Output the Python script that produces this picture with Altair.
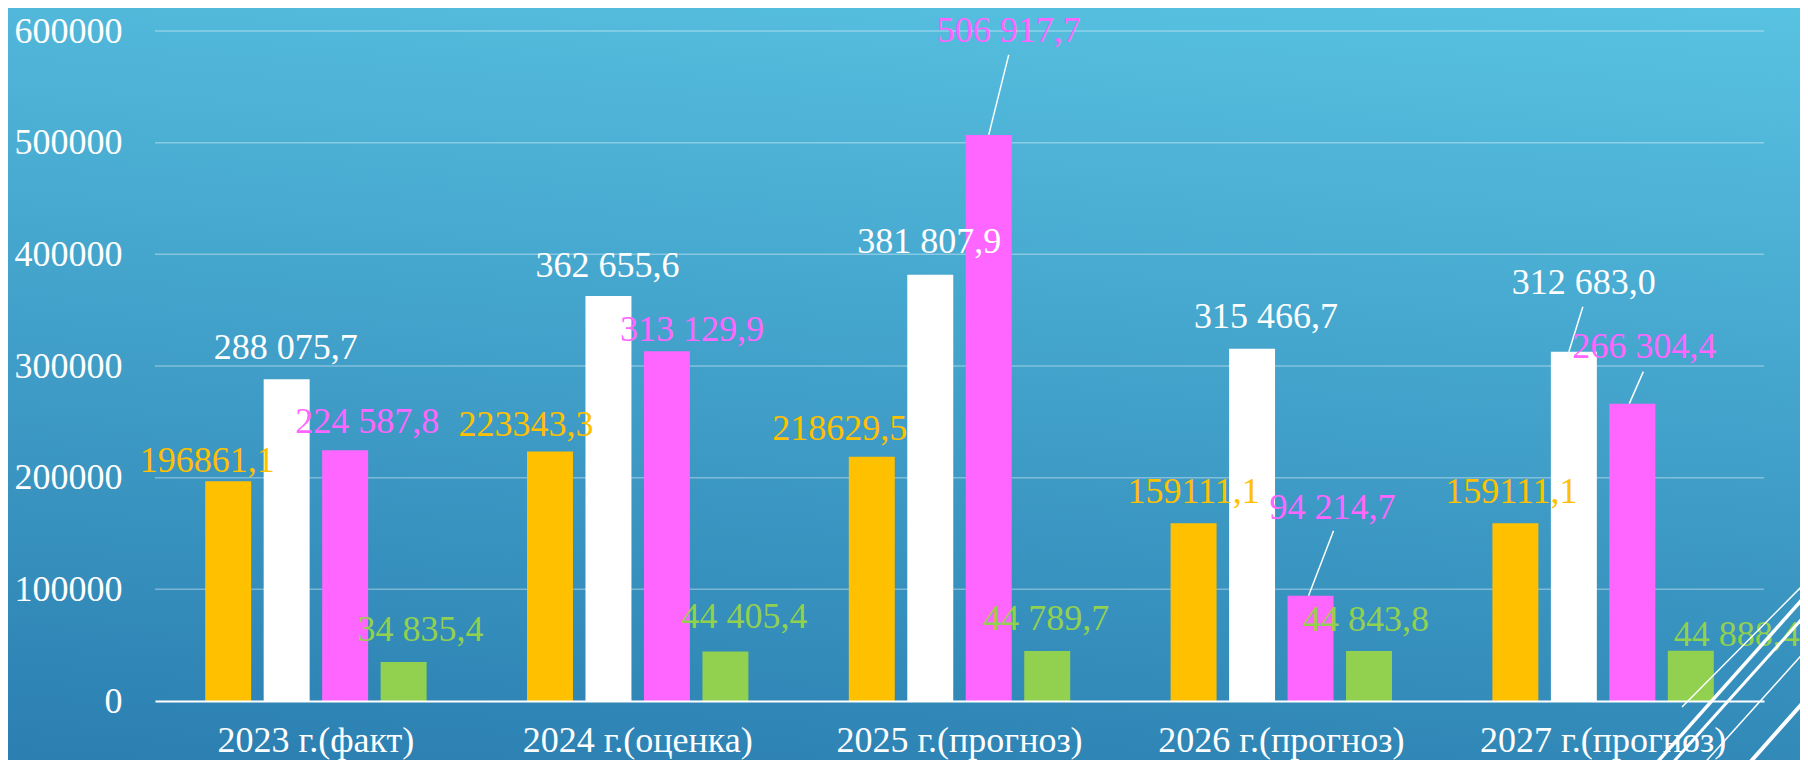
import altair as alt
import pandas as pd

# ---------------- data ----------------
categories = ["2023 г.(факт)", "2024 г.(оценка)", "2025 г.(прогноз)",
              "2026 г.(прогноз)", "2027 г.(прогноз)"]
series_names = ["Ряд 1", "Ряд 2", "Ряд 3", "Ряд 4"]
series_colors = ["#FFC000", "#FFFFFF", "#FF66FF", "#92D050"]

orange_vals = [196861.1, 223343.3, 218629.5, 159111.1, 159111.1]
white_vals = [288075.7, 362655.6, 381807.9, 315466.7, 312683.0]
magenta_vals = [224587.8, 313129.9, 506917.7, 94214.7, 266304.4]
green_vals = [34835.4, 44405.4, 44789.7, 44843.8, 44888.4]

y_ticks = [0, 100000, 200000, 300000, 400000, 500000, 600000]


def fmt(v, grouped):
    if grouped:
        s = f"{v:,.1f}".replace(",", " ")
    else:
        s = f"{v:.1f}"
    return s.replace(".", ",")


rows = []
for si, (name, vals) in enumerate(zip(series_names,
                                      [orange_vals, white_vals, magenta_vals, green_vals])):
    for ci, (cat, v) in enumerate(zip(categories, vals)):
        rows.append({"cat": cat, "series": name, "value": v,
                     "label": fmt(v, si != 0), "si": si, "ci": ci})
df = pd.DataFrame(rows)

# --------------- style: label nudges (px) per series / category ---------------
label_nudge = {
    0: [(-21, -20), (-24, -27), (-32, -28), (0, -31), (-4, -31)],
    1: [(-1, -31), (-1, -30), (-1, -33), (14, -32), (10, -69)],
    2: [(22, -28), (25, -21), (20, -104), (22, -88), (12, -57)],
    3: [(17, -32), (19, -34), (-1, -32), (-3, -31), (46, -16)],
}
# leader lines: (series, category, start(dx,dy), end(dx,dy)) in px from bar top centre
leaders = [
    (2, 2, (0, 0), (20, -80)),
    (2, 3, (-2, 0), (23, -65)),
    (1, 4, (-5, 0), (9, -45)),
    (2, 4, (-3, 0), (11, -32)),
]

FONT = "Liberation Serif"
W, H = 1609, 670

y_scale = alt.Scale(domain=[0, 600000], nice=False)
y_axis = alt.Axis(title=None, values=y_ticks, format="d", labelFont=FONT,
                  labelFontSize=36, labelColor="white", ticks=False,
                  domain=False, grid=False, labelPadding=33, zindex=1)

x_enc = alt.X("cat:N", sort=categories,
              scale=alt.Scale(paddingInner=0.312, paddingOuter=0.156),
              axis=alt.Axis(title=None, labelAngle=0, labelFont=FONT, labelFontSize=36,
                            labelColor="white", ticks=False, domainColor="white",
                            domainWidth=2, labelPadding=22, grid=False, zindex=1,
                            labelLimit=0))
xo_enc = alt.XOffset("series:N", sort=series_names,
                     scale=alt.Scale(paddingInner=0.214, paddingOuter=0))
y_enc = alt.Y("value:Q", scale=y_scale, axis=y_axis)

base = alt.Chart(df)

bg = alt.Chart(alt.Data(values=[{}])).mark_rect(
    fill={"gradient": "linear", "x1": 0, "y1": 1, "x2": 0.22, "y2": -0.24,
          "stops": [{"offset": 0, "color": "#2A7EB0"},
                    {"offset": 1, "color": "#5DC9E7"}]}
).encode(x=alt.value(-160), x2=alt.value(W + 50), y=alt.value(-35), y2=alt.value(H + 70))

grid = alt.Chart(pd.DataFrame({"value": y_ticks[1:]})).mark_rule(
    color="white", opacity=0.35, strokeWidth=1.5
).encode(y=y_enc)

bars = base.mark_bar().encode(
    x=x_enc, xOffset=xo_enc, y=y_enc,
    color=alt.Color("series:N", sort=series_names,
                    scale=alt.Scale(domain=series_names, range=series_colors), legend=None),
)

layers = [bg, grid, bars]

for si, ci, (sx, sy), (ex, ey) in leaders:
    L = max(abs(sx), abs(sy), abs(ex), abs(ey))
    path = f"M{sx / L:.4f},{sy / L:.4f}L{ex / L:.4f},{ey / L:.4f}"
    layers.append(
        base.transform_filter(f"datum.si == {si} && datum.ci == {ci}").mark_point(
            shape=path, size=4 * L * L, filled=False, stroke="white",
            strokeWidth=1.5, opacity=1
        ).encode(x=x_enc, xOffset=xo_enc, y=y_enc)
    )

for si in range(4):
    for ci in range(5):
        dx, dy = label_nudge[si][ci]
        layers.append(
            base.transform_filter(f"datum.si == {si} && datum.ci == {ci}").mark_text(
                font=FONT, fontSize=36, color=series_colors[si], dx=dx, dy=dy,
                align="center", baseline="middle"
            ).encode(x=x_enc, xOffset=xo_enc, y=y_enc, text="label:N")
        )

# decorative diagonal lines (bottom right corner), plot-area pixel coords
decor = [
    (1527, 676, 1653, 549, 1.5),
    (1497, 737, 1653, 562, 3.5),
    (1513, 737, 1653, 581, 3),
    (1545, 737, 1653, 617, 1.5),
    (1590, 737, 1653, 666, 4),
]
for x1, y1, x2, y2, sw in decor:
    layers.append(
        alt.Chart(alt.Data(values=[{}])).mark_rule(color="white", strokeWidth=sw).encode(
            x=alt.value(x1), y=alt.value(y1), x2=alt.value(x2), y2=alt.value(y2))
    )

chart = alt.layer(*layers).properties(
    width=W, height=H,
    autosize=alt.AutoSizeParams(type="none"),
    padding={"left": 147, "top": 23, "right": 36, "bottom": 59},
    background="#3A92C2",
).configure_view(stroke=None)

chart.save("out.html", embed_options={"renderer": "svg", "actions": False})
